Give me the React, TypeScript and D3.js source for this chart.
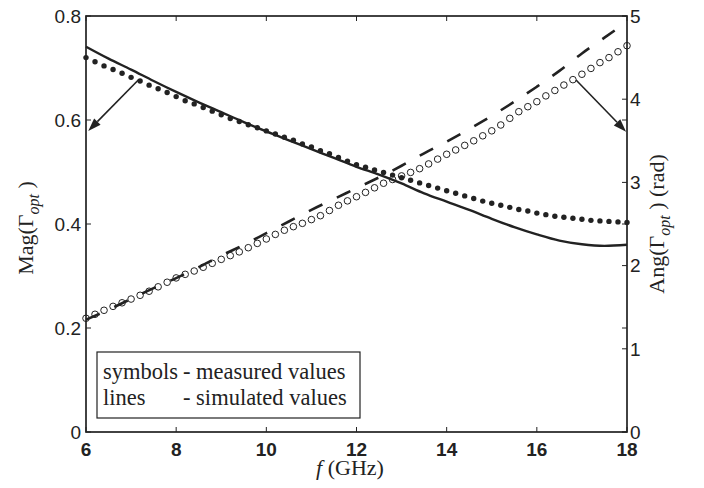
import React from "react";
import * as d3 from "d3";

const width = 704;
const height = 488;
const margin = { top: 16, right: 77, bottom: 56, left: 86 };

const sans = "'Liberation Sans', Arial, sans-serif";
const serif = "'Liberation Serif', 'Times New Roman', serif";
const ink = "#222";

// tick values
const freqTicks = [6, 8, 10, 12, 14, 16, 18];
const magTicks = [0, 0.2, 0.4, 0.6, 0.8];
const angTicks = [0, 1, 2, 3, 4, 5];

// measured grid: 6..18 GHz, 0.2 GHz step
const measFreq = d3.range(61).map((i) => 6 + i * 0.2);
const measMag = [
  0.720, 0.712, 0.704, 0.697, 0.690, 0.682, 0.675, 0.667, 0.660, 0.653,
  0.645, 0.637, 0.631, 0.624, 0.617, 0.610, 0.603, 0.597, 0.591, 0.585,
  0.579, 0.573, 0.567, 0.561, 0.554, 0.548, 0.541, 0.535, 0.528, 0.521,
  0.514, 0.509, 0.504, 0.499, 0.494, 0.489, 0.484, 0.479, 0.474, 0.469,
  0.464, 0.459, 0.454, 0.449, 0.444, 0.440, 0.436, 0.432, 0.428, 0.425,
  0.421, 0.418, 0.415, 0.413, 0.411, 0.409, 0.407, 0.406, 0.405, 0.404,
  0.403,
];
const measAng = [
  1.367, 1.415, 1.463, 1.510, 1.553, 1.598, 1.643, 1.692, 1.745, 1.800,
  1.852, 1.895, 1.935, 1.980, 2.027, 2.075, 2.120, 2.165, 2.215, 2.267,
  2.320, 2.375, 2.425, 2.468, 2.508, 2.553, 2.600, 2.662, 2.725, 2.778,
  2.828, 2.880, 2.935, 2.990, 3.035, 3.078, 3.120, 3.165, 3.222, 3.280,
  3.338, 3.390, 3.445, 3.500, 3.560, 3.620, 3.690, 3.770, 3.850, 3.910,
  3.970, 4.040, 4.105, 4.170, 4.235, 4.300, 4.370, 4.440, 4.500, 4.570,
  4.643,
];

// simulated: 0.5 GHz step
const simFreq = [
  6, 6.5, 7, 7.5, 8, 8.5, 9, 9.5, 10, 10.5, 11, 11.5, 12, 12.5, 13, 13.5,
  14, 14.5, 15, 15.5, 16, 16.5, 17, 17.5, 18,
];
const simMag = [
  0.741, 0.718, 0.697, 0.675, 0.654, 0.634, 0.615, 0.596, 0.578, 0.561,
  0.544, 0.527, 0.510, 0.495, 0.478, 0.459, 0.443, 0.427, 0.410, 0.394,
  0.380, 0.368, 0.361, 0.358, 0.360,
];
const simAng = [
  1.35, 1.47, 1.60, 1.73, 1.85, 1.98, 2.12, 2.25, 2.39, 2.53, 2.67, 2.80,
  2.93, 3.06, 3.20, 3.35, 3.49, 3.64, 3.80, 3.97, 4.15, 4.34, 4.55, 4.74,
  4.93,
];

// arrow annotations [fromFreq, fromVal, toFreq, toVal]
const magArrow = [7.16, 0.677, 6.05, 0.579];
const angArrow = [16.87, 4.23, 17.98, 3.61];

const x = d3.scaleLinear().domain([6, 18]).range([margin.left, width - margin.right]);
const yMag = d3.scaleLinear().domain([0, 0.8]).range([height - margin.bottom, margin.top]);
const yAng = d3.scaleLinear().domain([0, 5]).range([height - margin.bottom, margin.top]);

function Arrow({ x1, y1, x2, y2 }: { x1: number; y1: number; x2: number; y2: number }) {
  const a = Math.atan2(y2 - y1, x2 - x1);
  const len = 13, half = 4.5;
  const bx = x2 - len * Math.cos(a), by = y2 - len * Math.sin(a);
  const p1 = [bx + half * Math.sin(a), by - half * Math.cos(a)];
  const p2 = [bx - half * Math.sin(a), by + half * Math.cos(a)];
  return (
    <g>
      <line x1={x1} y1={y1} x2={bx} y2={by} stroke={ink} strokeWidth={1.6} />
      <polygon points={`${x2},${y2} ${p1[0]},${p1[1]} ${p2[0]},${p2[1]}`} fill={ink} />
    </g>
  );
}

export default function App() {
  const x0 = margin.left, x1 = width - margin.right;
  const y0 = height - margin.bottom, y1 = margin.top;
  const tick = 5;

  const magLine = d3.line<number>()
    .x((_, i) => x(simFreq[i]))
    .y((d) => yMag(d))
    .curve(d3.curveMonotoneX);
  const angLine = d3.line<number>()
    .x((_, i) => x(simFreq[i]))
    .y((d) => yAng(d))
    .curve(d3.curveMonotoneX);

  return (
    <svg width={width} height={height} style={{ position: "absolute", left: 0, top: 0, background: "#fff" }}>
      {/* data */}
      <path d={magLine(simMag) || ""} fill="none" stroke={ink} strokeWidth={2.4} />
      {measAng.map((d, i) => (
        <circle key={"a" + i} cx={x(measFreq[i])} cy={yAng(d)} r={3.3} fill="none" stroke={ink} strokeWidth={1} />
      ))}
      <path d={angLine(simAng) || ""} fill="none" stroke={ink} strokeWidth={2.6} strokeDasharray="15,16" />
      {measMag.map((d, i) => (
        <circle key={"m" + i} cx={x(measFreq[i])} cy={yMag(d)} r={2.7} fill={ink} />
      ))}

      {/* arrows */}
      <Arrow x1={x(magArrow[0])} y1={yMag(magArrow[1])} x2={x(magArrow[2])} y2={yMag(magArrow[3])} />
      <Arrow x1={x(angArrow[0])} y1={yAng(angArrow[1])} x2={x(angArrow[2])} y2={yAng(angArrow[3])} />

      {/* legend */}
      <rect x={97} y={352} width={263} height={66} fill="#fff" stroke={ink} strokeWidth={1.2} />
      <g fontFamily={serif} fontSize={22.5} fill={ink}>
        <text x={103} y={379}>symbols</text>
        <text x={183} y={379}>- measured values</text>
        <text x={103} y={405}>lines</text>
        <text x={183} y={405}>- simulated values</text>
      </g>

      {/* frame */}
      <rect x={x0} y={y1} width={x1 - x0} height={y0 - y1} fill="none" stroke={ink} strokeWidth={1.7} />

      {/* x ticks */}
      {freqTicks.map((t) => (
        <g key={"x" + t}>
          <line x1={x(t)} x2={x(t)} y1={y0} y2={y0 - tick} stroke={ink} strokeWidth={1} />
          <line x1={x(t)} x2={x(t)} y1={y1} y2={y1 + tick} stroke={ink} strokeWidth={1} />
          <text x={x(t)} y={y0 + 24} textAnchor="middle" fontFamily={sans} fontWeight="bold" fontSize={19} fill={ink}>
            {t}
          </text>
        </g>
      ))}

      {/* left ticks */}
      {magTicks.map((t) => (
        <g key={"l" + t}>
          <line x1={x0} x2={x0 + tick} y1={yMag(t)} y2={yMag(t)} stroke={ink} strokeWidth={1} />
          <line x1={x1} x2={x1 - tick} y1={yMag(t)} y2={yMag(t)} stroke={ink} strokeWidth={1} />
          <text x={x0 - 5} y={yMag(t)} dy="0.36em" textAnchor="end" fontFamily={sans} fontSize={19} fill={ink}>
            {t === 0 ? "0" : t.toFixed(1)}
          </text>
        </g>
      ))}

      {/* right ticks */}
      {angTicks.map((t) => (
        <g key={"r" + t}>
          <line x1={x1} x2={x1 - tick} y1={yAng(t)} y2={yAng(t)} stroke={ink} strokeWidth={1} />
          <text x={x1 + 3} y={yAng(t)} dy="0.36em" textAnchor="start" fontFamily={sans} fontSize={19} fill={ink}>
            {t}
          </text>
        </g>
      ))}

      {/* axis titles */}
      <text x={350} y={475} textAnchor="middle" fontFamily={serif} fontSize={22} fill={ink}>
        <tspan fontStyle="italic">f</tspan> (GHz)
      </text>
      <text transform="translate(33,228) rotate(-90)" textAnchor="middle" fontFamily={serif} fontSize={22} fill={ink}>
        Mag(Γ<tspan fontStyle="italic" fontSize={16} dy={6}>opt</tspan><tspan dy={-6}> )</tspan>
      </text>
      <text transform="translate(664,224) rotate(-90)" textAnchor="middle" fontFamily={serif} fontSize={22} fill={ink}>
        Ang(Γ<tspan fontStyle="italic" fontSize={16} dy={6}>opt</tspan><tspan dy={-6}> ) (rad)</tspan>
      </text>
    </svg>
  );
}
